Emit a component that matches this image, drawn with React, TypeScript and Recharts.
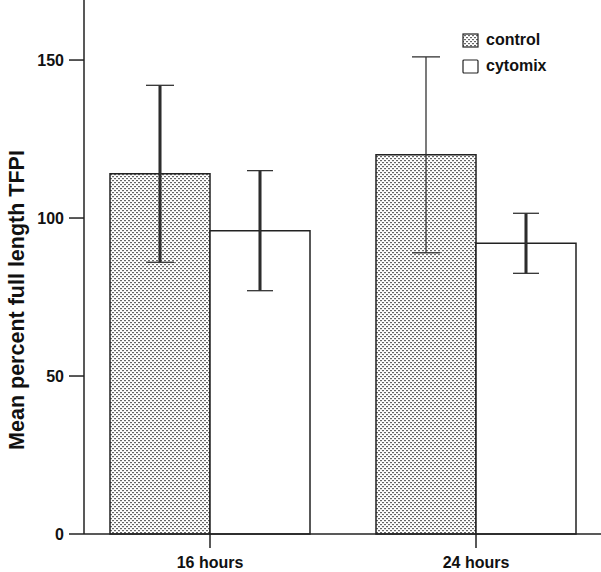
import React from "react";
import { BarChart, Bar, XAxis, YAxis, ErrorBar } from "recharts";

const categories = ["16 hours", "24 hours"];
const controlValues = [114, 120];
const controlErrors = [28, 31];
const cytomixValues = [96, 92];
const cytomixErrors = [19, 9.5];
const yTicks = [0, 50, 100, 150];
const yLabel = "Mean percent full length TFPI";

const data = categories.map((c, i) => ({
  name: c,
  control: controlValues[i],
  controlErr: controlErrors[i],
  controlErrThick: i === 0 ? controlErrors[i] : null,
  cytomix: cytomixValues[i],
  cytomixErr: cytomixErrors[i],
}));

const FONT = "Arial, 'Liberation Sans', Helvetica, sans-serif";

export default function App() {
  return (
    <div style={{ position: "absolute", left: 0, top: 0, width: 601, height: 572, overflow: "hidden", background: "#fff", fontFamily: FONT }}>
      <BarChart
        width={601}
        height={572}
        data={data}
        margin={{ top: 0, right: 0, left: 0, bottom: 0 }}
        barCategoryGap={33}
        barGap={0}
      >
        <defs>
          <pattern id="dots" width="4" height="4" patternUnits="userSpaceOnUse">
            <rect x="0" y="0" width="4" height="4" fill="#ffffff" />
            <rect x="0" y="0" width="2" height="1.2" fill="#666" />
            <rect x="2" y="2" width="2" height="1.2" fill="#666" />
          </pattern>
        </defs>
        <XAxis
          dataKey="name"
          height={38}
          padding={{ left: -7, right: -8 }}
          tickSize={14}
          tickMargin={9}
          axisLine={{ stroke: "#222", strokeWidth: 1.5 }}
          tickLine={{ stroke: "#222", strokeWidth: 1.5 }}
          tick={{ fill: "#111", fontSize: 16, fontWeight: "bold", fontFamily: FONT }}
        />
        <YAxis
          width={84}
          domain={[0, 169]}
          ticks={yTicks}
          tickSize={15}
          tickMargin={5}
          axisLine={{ stroke: "#222", strokeWidth: 1.5 }}
          tickLine={{ stroke: "#222", strokeWidth: 1.5 }}
          tick={{ fill: "#111", fontSize: 16, fontWeight: "bold", fontFamily: FONT }}
          label={{
            content: () => (
              <text
                x={24}
                y={300}
                transform="rotate(-90 24 300)"
                textAnchor="middle"
                fontSize={21.5}
                fontWeight="bold"
                fontFamily={FONT}
                fill="#111"
              >
                {yLabel}
              </text>
            ),
          }}
        />
        <Bar dataKey="control" fill="url(#dots)" stroke="#222" strokeWidth={1.5} isAnimationActive={false}>
          <ErrorBar dataKey="controlErrThick" width={0} stroke="#222" strokeWidth={3} />
          <ErrorBar dataKey="controlErr" width={14} stroke="#333" strokeWidth={1.3} />
        </Bar>
        <Bar dataKey="cytomix" fill="#fff" stroke="#222" strokeWidth={1.5} isAnimationActive={false}>
          <ErrorBar dataKey="cytomixErr" width={0} stroke="#222" strokeWidth={3} />
          <ErrorBar dataKey="cytomixErr" width={13} stroke="#333" strokeWidth={1.3} />
        </Bar>
      </BarChart>
      <div style={{ position: "absolute", left: 462, top: 27, fontSize: 16, fontWeight: "bold", color: "#111", lineHeight: "26px" }}>
        <div style={{ display: "flex", alignItems: "center" }}>
          <svg width={17} height={15} style={{ marginRight: 7 }}>
            <rect x={1} y={1} width={15} height={13} fill="url(#dots)" stroke="#222" strokeWidth={1.2} />
          </svg>
          <span>control</span>
        </div>
        <div style={{ display: "flex", alignItems: "center" }}>
          <svg width={17} height={15} style={{ marginRight: 7 }}>
            <rect x={1} y={1} width={15} height={13} fill="#fff" stroke="#222" strokeWidth={1.2} rx={1} />
          </svg>
          <span>cytomix</span>
        </div>
      </div>
    </div>
  );
}
